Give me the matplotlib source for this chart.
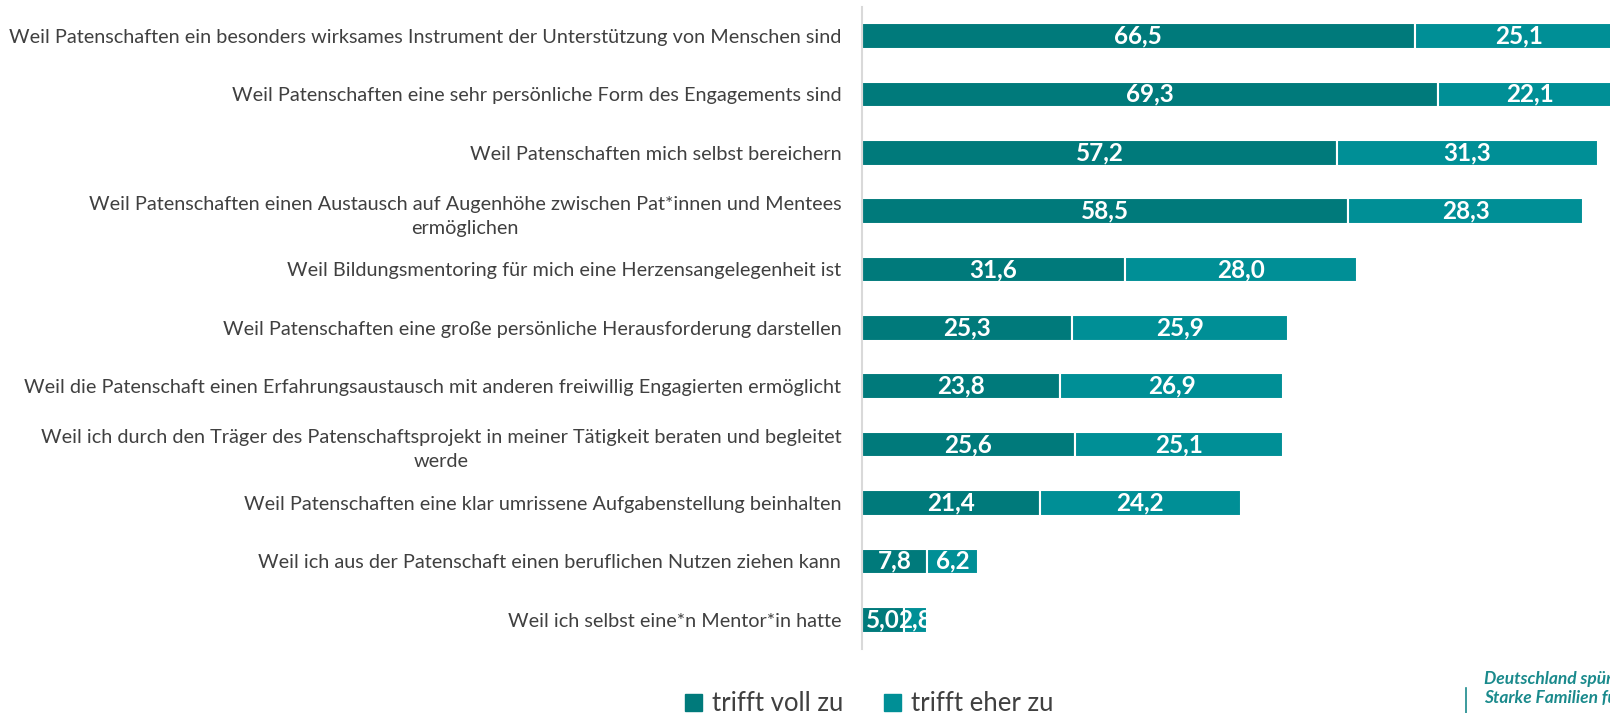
import numpy as np
import matplotlib.pyplot as plt
from matplotlib.patches import Patch

# Gründe für das Engagement (Angaben in %)
categories = [
    "Weil Patenschaften ein besonders wirksames Instrument der Unterstützung von Menschen sind",
    "Weil Patenschaften eine sehr persönliche Form des Engagements sind",
    "Weil Patenschaften mich selbst bereichern",
    "Weil Patenschaften einen Austausch auf Augenhöhe zwischen Pat*innen und Mentees\nermöglichen",
    "Weil Bildungsmentoring für mich eine Herzensangelegenheit ist",
    "Weil Patenschaften eine große persönliche Herausforderung darstellen",
    "Weil die Patenschaft einen Erfahrungsaustausch mit anderen freiwillig Engagierten ermöglicht",
    "Weil ich durch den Träger des Patenschaftsprojekt in meiner Tätigkeit beraten und begleitet\nwerde",
    "Weil Patenschaften eine klar umrissene Aufgabenstellung beinhalten",
    "Weil ich aus der Patenschaft einen beruflichen Nutzen ziehen kann",
    "Weil ich selbst eine*n Mentor*in hatte",
]
voll = [66.5, 69.3, 57.2, 58.5, 31.6, 25.3, 23.8, 25.6, 21.4, 7.8, 5.0]
eher = [25.1, 22.1, 31.3, 28.3, 28.0, 25.9, 26.9, 25.1, 24.2, 6.2, 2.8]
series_names = ["trifft voll zu", "trifft eher zu"]

col_voll = "#007A7B"
col_eher = "#008F96"
plt.rcParams['font.family'] = ['Lato', 'DejaVu Sans']

fig = plt.figure(figsize=(16.1, 7.13), dpi=100)
ax = fig.add_axes([0.5354, 0.0898, 0.4646, 0.9007])

y = np.arange(len(categories))
b1 = ax.barh(y, voll, height=0.44, color=col_voll, edgecolor="white", linewidth=1.5)
b2 = ax.barh(y, eher, left=voll, height=0.44, color=col_eher, edgecolor="white", linewidth=1.5)

for bars, vals, lefts in [(b1, voll, [0] * len(voll)), (b2, eher, voll)]:
    for bar, v, l in zip(bars, vals, lefts):
        t = ax.text(l + v / 2, bar.get_y() + bar.get_height() / 2,
                    f"{v:.1f}".replace(".", ","), ha="center", va="center",
                    color="white", fontsize=17.5, fontweight="bold")
        t.set_clip_path(bar)

ax.set_xlim(0, 90)
ax.set_ylim(len(categories) - 0.5, -0.5)
ax.set_yticks(y)
ax.set_yticklabels(categories, fontsize=14.3, color="#404040",
                   multialignment="center", linespacing=1.5)
ax.tick_params(axis="y", length=0, pad=15)
ax.set_xticks([])
for s in ["top", "right", "bottom"]:
    ax.spines[s].set_visible(False)
ax.spines["left"].set_color("#D9D9D9")
ax.spines["left"].set_linewidth(1.5)

handles = [Patch(color=col_voll), Patch(color=col_eher)]
fig.legend(handles, series_names, loc="center", bbox_to_anchor=(0.54, 0.013), ncol=2,
           frameon=False, fontsize=18.5, handlelength=0.65, handleheight=0.65,
           handletextpad=0.4, columnspacing=1.6, labelcolor="#404040")

# Logo-Text unten rechts
fig.text(0.9217, 0.048, "Deutschland spürbar", color="#1A8A8C", fontsize=12.5,
         fontweight="bold", style="italic", va="center", ha="left")
fig.text(0.9217, 0.021, "Starke Familien für", color="#1A8A8C", fontsize=12.5,
         fontweight="bold", style="italic", va="center", ha="left")
fig.add_artist(plt.Line2D([0.9106, 0.9106], [0.0, 0.035], color="#1A8A8C", lw=1.2))

fig.savefig("out.png", dpi=100)
